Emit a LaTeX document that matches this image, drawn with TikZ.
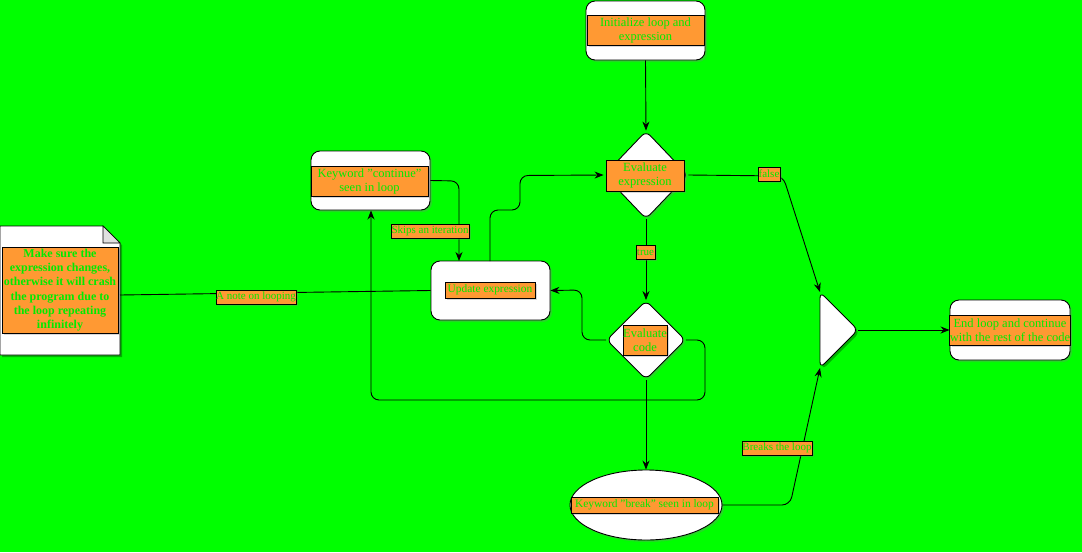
\documentclass[tikz,border=0pt]{standalone}
\usepackage{fontspec}
\setmainfont{Liberation Serif}
\usetikzlibrary{shapes.geometric,arrows.meta,shadows}
\definecolor{bg}{RGB}{0,255,0}
\definecolor{lbl}{RGB}{255,153,51}
\definecolor{txt}{RGB}{0,235,0}
\tikzset{
  shad/.style={drop shadow={opacity=0.3,shadow xshift=2pt,shadow yshift=-2pt}},
  box/.style={draw=black,fill=white,rounded corners=9pt,line width=0.9pt,shad,inner sep=0pt},
  lab/.style={draw=black,fill=lbl,line width=0.8pt,inner sep=0pt,align=center,text=txt,
    font=\fontsize{12.5}{14}\selectfont,shad},
  slab/.style={lab,font=\fontsize{11.4}{14}\selectfont},
  elab/.style={lab,font=\fontsize{11}{14}\selectfont},
  conn/.style={draw=black,line width=0.9pt,rounded corners=8pt},
  arr/.style={conn,-{Stealth[length=9pt,width=7pt]}}
}
\begin{document}
\begin{tikzpicture}[x=1pt,y=-1pt]
\fill[bg] (0,0) rectangle (1082,552);
\useasboundingbox (0,0) rectangle (1082,552);

% shapes
\node[box,minimum width=119pt,minimum height=59pt] (init) at (645.5,30.5) {};
\node[box,diamond,rounded corners=6pt,minimum width=84pt,minimum height=88pt] (evalexpr) at (646,175) {};
\node[box,diamond,rounded corners=6pt,minimum width=79pt,minimum height=79pt] (evalcode) at (646,340) {};
\node[box,minimum width=119pt,minimum height=59pt] (update) at (490.5,290.5) {};
\node[box,minimum width=119pt,minimum height=59pt] (cont) at (370.5,180.5) {};
\node[box,minimum width=120pt,minimum height=60pt] (endb) at (1010,330) {};
\node[box,ellipse,minimum width=152pt,minimum height=70pt] (brk) at (646,505) {};
\node[inner sep=0pt,minimum width=120pt,minimum height=129pt] (note) at (60,290.5) {};
\fill[black,opacity=0.3] (2,228) -- (105,228) -- (122,245) -- (122,357) -- (2,357) -- cycle;
\draw[fill=white,line width=0.9pt] (0,226) -- (103,226) -- (120,243) -- (120,355) -- (0,355) -- cycle;
\draw[fill=black!12,line width=0.6pt] (103,226) -- (103,243) -- (120,243) -- cycle;
% triangle
\coordinate (triT) at (820,292);
\coordinate (triB) at (820,368);
\coordinate (triR) at (858,330);
\fill[black,opacity=0.3,rounded corners=6pt] (822,294) -- (860,332) -- (822,370) -- cycle;
\draw[fill=white,line width=0.9pt,rounded corners=6pt] (triT) -- (triR) -- (triB) -- cycle;

% connectors
\draw[arr] (init.south) -- (evalexpr.north);
\draw[arr] (evalexpr.south) -- (evalcode.north);
\draw[arr] (evalexpr.east) -- (783,176) -- (triT);
\draw[arr] (evalcode.west) -- (582,340) -- (582,290) -- (update.east);
\draw[arr] (evalcode.east) -- (705,340) -- (705,400) -- (371,400) -- (371,210.5);
\draw[arr] (cont.east) -- (459,181) -- (459,261);
\draw[arr] (490,261) -- (490,210) -- (520,210) -- (520,175.5) -- (evalexpr.west);
\draw[conn] (120,295) -- (update.west);
\draw[arr] (evalcode.south) -- (brk.north);
\draw[arr] (brk.east) -- (790,505) -- (triB);
\draw[arr] (triR) -- (endb.west);

% labels
\node[lab,minimum width=117pt,minimum height=30pt] (linit) at (645.5,30) {Initialize loop and\\expression};
\node[lab,minimum width=78pt,minimum height=31pt] (lexpr) at (645,175.5) {Evaluate\\expression};
\node[elab,minimum width=22pt,minimum height=14pt] (lfalse) at (769,174) {false};
\node[elab,minimum width=19pt,minimum height=14pt] (ltrue) at (645.5,252) {true};
\node[lab,minimum width=44pt,minimum height=30pt] (lcode) at (645,340) {Evaluate\\code};
\node[slab,minimum width=90pt,minimum height=16pt] (lupd) at (490,290) {Update expression};
\node[lab,minimum width=117pt,minimum height=30pt] (lcont) at (369.5,181) {Keyword "continue"\\seen in loop};
\node[elab,minimum width=78pt,minimum height=14pt] (lskip) at (430,231) {Skips an iteration};
\node[lab,minimum width=116pt,minimum height=86pt,font=\fontsize{12}{14.3}\selectfont\bfseries] (lnote) at (60,290) {Make sure the\\expression changes,\\otherwise it will crash\\the program due to\\the loop repeating\\infinitely};
\node[elab,minimum width=80pt,minimum height=14pt] (lloop) at (256,297) {A note on looping};
\node[lab,minimum width=118pt,minimum height=30pt] (lend) at (1010,330) {End loop and continue\\with the rest of the code};
\node[slab,minimum width=147pt,minimum height=16pt] (lbrk) at (644.5,505) {Keyword "break" seen in loop};
\node[elab,minimum width=70pt,minimum height=14pt] (lbreaks) at (777,448) {Breaks the loop};
\end{tikzpicture}
\end{document}
